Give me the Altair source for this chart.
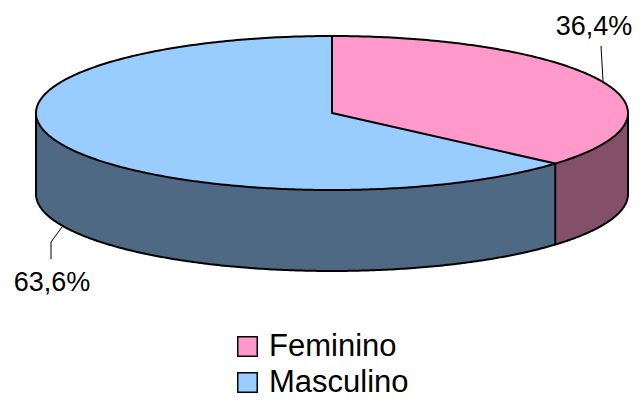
import numpy as np
import pandas as pd
import altair as alt

categories = ["Feminino", "Masculino"]
shares = [36.4, 63.6]
top_colors = ["#FF99CC", "#99CCFF"]
side_colors = ["#844F69", "#4F6884"]
label_x = [594, 52]
label_y = [27, 283]
leader_x = [[601, 603], [62, 51, 51]]
leader_y = [[46, 81], [227, 242, 259]]

cx, cy, rx, ry, depth = 332.0, 113.0, 296.0, 77.0, 81.0

t_edge = 2 * np.pi * shares[0] / 100
ex = cx + rx * np.sin(t_edge)
ey = cy - ry * np.cos(t_edge)


def arc(t0, t1, n=240):
    t = np.linspace(t0, t1, n)
    return cx + rx * np.sin(t), cy - ry * np.cos(t)


def path(name, xs, ys):
    return pd.DataFrame({"x": xs, "y": ys, "path": name, "i": np.arange(len(xs))})


# top faces
xs_all = cx + rx * np.sin(np.linspace(-np.pi / 2, np.pi / 2, 500))
half = ry * np.sqrt(np.clip(1 - ((xs_all - cx) / rx) ** 2, 0, 1))
top_blue = pd.DataFrame({"x": xs_all, "y": cy - half, "y2": cy + half, "s": categories[1]})

xp = np.sort(np.concatenate([cx + rx * np.sin(np.linspace(0, np.pi / 2, 400)), [ex]]))
hp = ry * np.sqrt(np.clip(1 - ((xp - cx) / rx) ** 2, 0, 1))
bottom = np.where(xp <= ex, cy + (xp - cx) / (ex - cx) * (ey - cy), cy + hp)
top_pink = pd.DataFrame({"x": xp, "y": cy - hp, "y2": bottom, "s": categories[0]})

# side walls
wx_b, wy_b = arc(t_edge, np.pi * 1.5)
wall_blue = pd.DataFrame({"x": wx_b, "y": wy_b, "y2": wy_b + depth})
wx_p, wy_p = arc(np.pi / 2, t_edge)
wall_pink = pd.DataFrame({"x": wx_p, "y": wy_p, "y2": wy_p + depth})

# outlines
ox, oy = arc(0, 2 * np.pi, 500)
bx, by = arc(np.pi / 2, np.pi * 1.5, 300)
outlines = pd.concat([
    path("rim", ox, oy),
    path("base", bx, by + depth),
    path("left", [cx - rx, cx - rx], [cy, cy + depth]),
    path("right", [cx + rx, cx + rx], [cy, cy + depth]),
    path("edge", [ex, ex], [ey, ey + depth]),
    path("radius", [cx, cx, ex], [cy - ry, cy, ey]),
])

leaders = pd.concat([path(categories[k], leader_x[k], leader_y[k]) for k in range(2)])
labels = pd.DataFrame({
    "x": label_x,
    "y": label_y,
    "t": [f"{v:.1f}%".replace(".", ",") for v in shares],
})

X = alt.X("x:Q", axis=None, scale=alt.Scale(domain=[8, 633], nice=False, zero=False))
Y = alt.Y("y:Q", axis=None, scale=alt.Scale(domain=[8, 400], reverse=True, nice=False, zero=False))
color = alt.Color(
    "s:N",
    scale=alt.Scale(domain=categories, range=top_colors),
    legend=alt.Legend(
        title=None,
        orient="none",
        legendX=224,
        legendY=326,
        symbolType="square",
        symbolSize=380,
        symbolStrokeColor="#000000",
        symbolStrokeWidth=1.5,
        symbolOpacity=1,
        labelFont="Liberation Sans",
        labelFontSize=31,
        labelColor="#000000",
        labelOffset=6,
        labelLimit=300,
        rowPadding=4,
        clipHeight=25,
    ),
)


def wall(df, c):
    return alt.Chart(df).mark_area(orient="vertical", color=c).encode(x=X, y=Y, y2="y2:Q")


layers = [
    wall(wall_blue, side_colors[1]),
    wall(wall_pink, side_colors[0]),
    alt.Chart(top_blue).mark_area(orient="vertical").encode(x=X, y=Y, y2="y2:Q", color=color),
    alt.Chart(top_pink).mark_area(orient="vertical").encode(x=X, y=Y, y2="y2:Q", color=color),
    alt.Chart(outlines).mark_line(color="#000000", strokeWidth=2, strokeJoin="round").encode(
        x=X, y=Y, detail="path:N", order="i:Q"
    ),
    alt.Chart(leaders).mark_line(color="#000000", strokeWidth=1).encode(
        x=X, y=Y, detail="path:N", order="i:Q"
    ),
    alt.Chart(labels).mark_text(font="Liberation Sans", fontSize=27, color="#000000").encode(
        x=X, y=Y, text="t:N"
    ),
]

chart = (
    alt.layer(*layers)
    .properties(width=625, height=392, padding=0, autosize=alt.AutoSizeParams(type="none"))
    .configure_view(stroke=None)
)

chart.save("out.html", embed_options={"renderer": "svg", "actions": False})
